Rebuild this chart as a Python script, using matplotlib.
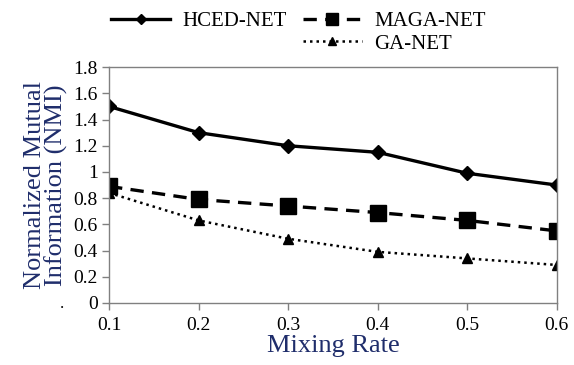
import matplotlib.pyplot as plt
from matplotlib.lines import Line2D

mixing_rate = [0.1, 0.2, 0.3, 0.4, 0.5, 0.6]
hced_net = [1.50, 1.30, 1.20, 1.15, 0.99, 0.90]
maga_net = [0.89, 0.79, 0.74, 0.69, 0.63, 0.55]
ga_net = [0.84, 0.63, 0.49, 0.39, 0.34, 0.29]
y_ticks = [0, 0.2, 0.4, 0.6, 0.8, 1, 1.2, 1.4, 1.6, 1.8]
y_tick_labels = ["0", "0.2", "0.4", "0.6", "0.8", "1", "1.2", "1.4", "1.6", "1.8"]

plt.rcParams["font.family"] = ["Liberation Serif", "DejaVu Serif"]
label_color = "#1f2d6b"

fig = plt.figure(figsize=(5.74, 3.65), dpi=100)
ax = fig.add_axes([0.19, 0.170, 0.780, 0.646])

ax.plot(mixing_rate, hced_net, color="black", lw=2.4, ls="-", marker="D", ms=7, label="HCED-NET")
ax.plot(mixing_rate, maga_net, color="black", lw=2.4, ls=(0, (4, 2.5)), marker="s", ms=11, label="MAGA-NET")
ax.plot(mixing_rate, ga_net, color="black", lw=1.8, ls=(0, (1, 1.6)), marker="^", ms=7, label="GA-NET")

ax.set_xlim(0.1, 0.6)
ax.set_ylim(0, 1.8)
ax.set_xticks(mixing_rate)
ax.set_xticklabels([f"{v:.1f}" for v in mixing_rate])
ax.set_yticks(y_ticks)
ax.set_yticklabels(y_tick_labels)
ax.tick_params(direction="out", length=5, width=1, color="#808080", labelsize=14, pad=3)
ax.tick_params(axis="x", pad=5)
for spine in ax.spines.values():
    spine.set_color("#808080")
    spine.set_linewidth(1)

ax.set_xlabel("Mixing Rate", fontsize=19, color=label_color, labelpad=1)
ax.set_ylabel("Normalized Mutual\nInformation (NMI)", fontsize=19, color=label_color,
              labelpad=4, linespacing=0.9)
fig.text(0.108, 0.168, ".", fontsize=12, ha="center", va="center")

handles, labels = ax.get_legend_handles_labels()
blank = Line2D([], [], color="none")
fig.legend([handles[0], blank, handles[1], handles[2]],
           [labels[0], "", labels[1], labels[2]],
           ncol=2, loc="upper center", bbox_to_anchor=(0.52, 1.02), frameon=False,
           fontsize=15, handlelength=2.8, columnspacing=0.8, labelspacing=0.15,
           handletextpad=0.6, markerscale=0.8)

fig.savefig("out.png", dpi=100)
